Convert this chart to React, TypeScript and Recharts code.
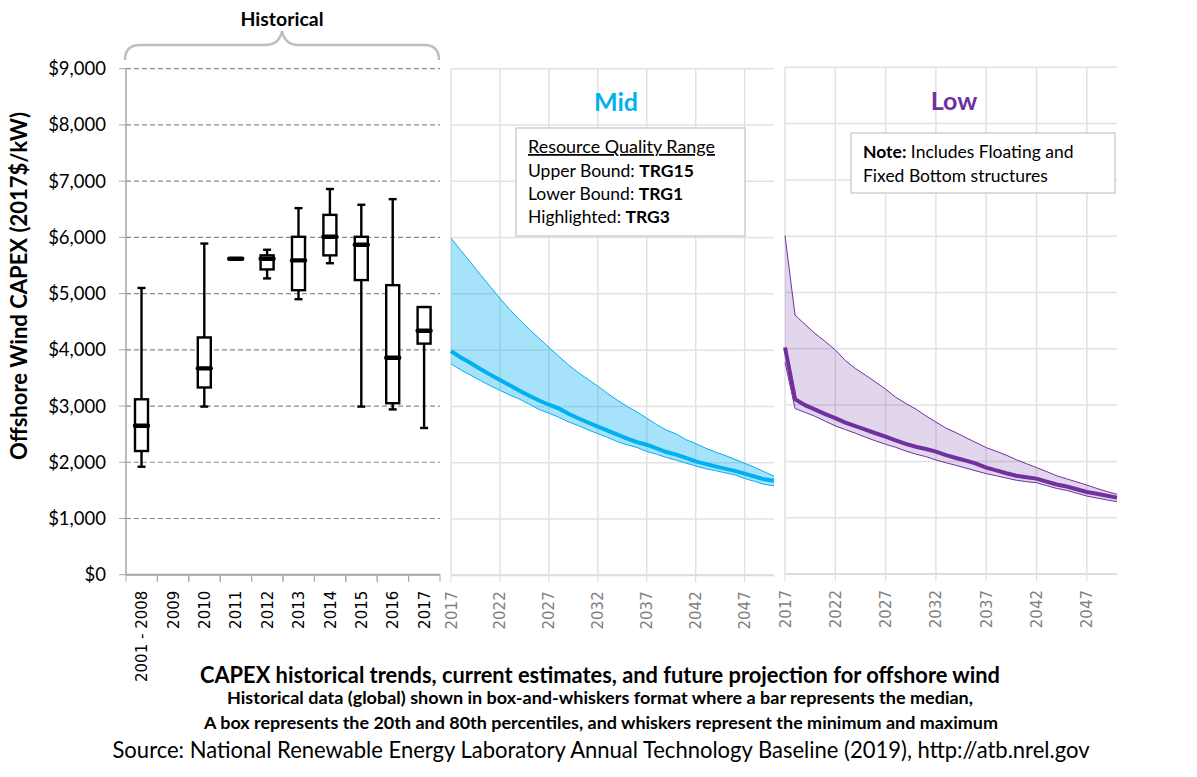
import React from "react";
import { Area, Bar, CartesianGrid, ComposedChart, Line, XAxis, YAxis } from "recharts";

const yTicks = [0, 1000, 2000, 3000, 4000, 5000, 6000, 7000, 8000, 9000];

// historical boxes
const boxCategories = ["2001 - 2008", "2009", "2010", "2011", "2012", "2013", "2014", "2015", "2016", "2017"];
const boxMin = [1920, null, 2990, 5620, 5270, 4900, 5540, 2990, 2940, 2610];
const boxQ1 = [2200, null, 3330, 5620, 5430, 5060, 5680, 5240, 3050, 4110];
const boxMedian = [2650, null, 3670, 5620, 5620, 5590, 6010, 5870, 3860, 4340];
const boxQ3 = [3120, null, 4220, 5620, 5680, 6010, 6400, 6010, 5150, 4760];
const boxMax = [5100, null, 5890, 5620, 5780, 6520, 6860, 6580, 6680, 4760];

// projections
const years = [
  2017, 2018, 2019, 2020, 2021, 2022, 2023, 2024, 2025, 2026, 2027, 2028, 2029, 2030, 2031, 2032, 2033,
  2034, 2035, 2036, 2037, 2038, 2039, 2040, 2041, 2042, 2043, 2044, 2045, 2046, 2047, 2048, 2049, 2050,
];
const yearTicks = [2017, 2022, 2027, 2032, 2037, 2042, 2047];
const midUpper = [
  5990, 5770, 5560, 5340, 5130, 4920, 4720, 4540, 4370, 4210, 4050, 3890, 3740, 3600, 3480, 3360, 3230,
  3110, 3000, 2900, 2790, 2680, 2580, 2510, 2410, 2340, 2260, 2190, 2130, 2060, 1990, 1920, 1840, 1760,
];
const midCentral = [
  3983, 3870, 3770, 3665, 3565, 3470, 3375, 3280, 3190, 3105, 3030, 2965, 2870, 2790, 2715, 2640, 2570,
  2500, 2430, 2365, 2320, 2255, 2190, 2145, 2085, 2025, 1980, 1935, 1895, 1855, 1805, 1755, 1705, 1680,
];
const midLower = [
  3757, 3650, 3555, 3460, 3370, 3285, 3205, 3130, 3040, 2945, 2880, 2810, 2725, 2660, 2585, 2515, 2450,
  2375, 2320, 2270, 2200, 2150, 2095, 2045, 1995, 1940, 1895, 1860, 1820, 1785, 1720, 1670, 1615, 1590,
];
const lowUpper = [
  6010, 4600, 4430, 4270, 4130, 3980, 3790, 3650, 3530, 3410, 3283, 3141, 3030, 2930, 2808, 2700, 2590,
  2510, 2420, 2334, 2245, 2180, 2110, 2030, 1960, 1890, 1820, 1745, 1690, 1635, 1580, 1520, 1465, 1415,
];
const lowCentral = [
  4024, 3105, 3000, 2920, 2840, 2767, 2690, 2625, 2565, 2500, 2441, 2375, 2310, 2260, 2220, 2174, 2110,
  2060, 2015, 1960, 1889, 1840, 1790, 1745, 1720, 1694, 1640, 1590, 1555, 1505, 1456, 1425, 1390, 1356,
];
const lowLower = [
  3757, 2940, 2870, 2800, 2715, 2630, 2565, 2500, 2430, 2365, 2304, 2250, 2185, 2130, 2085, 2025, 1975,
  1930, 1880, 1830, 1783, 1745, 1705, 1665, 1640, 1622, 1570, 1520, 1485, 1435, 1384, 1350, 1315, 1285,
];

const boxData = boxCategories.map((name, i) => ({
  name,
  span: boxMin[i] === null ? null : [boxMin[i], boxMax[i]],
  min: boxMin[i],
  q1: boxQ1[i],
  median: boxMedian[i],
  q3: boxQ3[i],
  max: boxMax[i],
}));
const midData = years.map((year, i) => ({ year, band: [midLower[i], midUpper[i]], central: midCentral[i] }));
const lowData = years.map((year, i) => ({ year, band: [lowLower[i], lowUpper[i]], central: lowCentral[i] }));

const CALIBRI = "Lato, 'Open Sans', sans-serif";
const BAND = 31.4;

function BoxShape(props: any) {
  const { x, y, width, height, payload } = props;
  if (payload.min === null) return null;
  const cx = x + width / 2;
  const range = payload.max - payload.min;
  const px = (v: number) => (range === 0 ? y : y + (height * (payload.max - v)) / range);
  return (
    <g stroke="#000" fill="none" strokeWidth={2.4}>
      {range > 0 && (
        <>
          <line x1={cx} x2={cx} y1={px(payload.max)} y2={px(payload.q3)} />
          <line x1={cx} x2={cx} y1={px(payload.q1)} y2={px(payload.min)} />
          <line x1={cx - 4} x2={cx + 4} y1={px(payload.max)} y2={px(payload.max)} />
          <line x1={cx - 4} x2={cx + 4} y1={px(payload.min)} y2={px(payload.min)} />
          <rect x={x} y={px(payload.q3)} width={width} height={px(payload.q1) - px(payload.q3)} fill="#fff" />
        </>
      )}
      <line
        x1={cx - 6.5}
        x2={cx + 6.5}
        y1={px(payload.median)}
        y2={px(payload.median)}
        strokeWidth={4.4}
        strokeLinecap="round"
      />
    </g>
  );
}

function RotatedTick(props: any) {
  const { x, y, payload, fill, marks } = props;
  return (
    <g>
      {marks && (
        <>
          <line x1={x - BAND / 2} x2={x - BAND / 2} y1={y - 7} y2={y} stroke="#a6a6a6" />
          <line x1={x + BAND / 2} x2={x + BAND / 2} y1={y - 7} y2={y} stroke="#a6a6a6" />
        </>
      )}
      <text
        transform={`translate(${x + 5.5},${y + 9}) rotate(-90)`}
        textAnchor="end"
        fontFamily="'DejaVu Sans', sans-serif"
        fontSize={15}
        fill={fill}
      >
        {payload.value}
      </text>
    </g>
  );
}

function Projection({ data, left, width, top, bottom, color, fillOpacity }: any) {
  const height = 777;
  return (
    <div style={{ position: "absolute", left: left - 10, top: 0 }}>
      <ComposedChart
        width={width + 20}
        height={height}
        data={data}
        margin={{ top, left: 10, right: 10, bottom: 0 }}
      >
        <CartesianGrid stroke="#e2e2e2" strokeWidth={1.5} syncWithTicks verticalValues={yearTicks} />
        <XAxis
          dataKey="year"
          type="number"
          domain={[2017, 2050]}
          ticks={yearTicks}
          interval={0}
          height={height - bottom}
          axisLine={{ stroke: "#dcdcdc", strokeWidth: 2 }}
          tickLine={{ stroke: "#dcdcdc" }}
          tickSize={7}
          tickMargin={0}
          tick={<RotatedTick fill="#7f7f7f" />}
        />
        <YAxis hide domain={[0, 9000]} ticks={yTicks} />
        <Area
          dataKey="band"
          type="linear"
          stroke={color}
          strokeWidth={1}
          fill={color}
          fillOpacity={fillOpacity}
          isAnimationActive={false}
        />
        <Line dataKey="central" type="linear" stroke={color} strokeWidth={4} dot={false} isAnimationActive={false} />
      </ComposedChart>
    </div>
  );
}

function Overlay() {
  const line = { fontFamily: CALIBRI, textAnchor: "middle" as const, lengthAdjust: "spacingAndGlyphs" };
  const boxText = { fontFamily: CALIBRI, fontSize: 17.5, fill: "#000" };
  return (
    <svg width={1197} height={777} style={{ position: "absolute", left: 0, top: 0, pointerEvents: "none" }}>
      <text x={282} y={26} {...line} fontSize={18} fontWeight={700} textLength={83}>
        Historical
      </text>
      <path
        d="M125,60 C125,51 129,45 140,45 L265,45 C273,45 280,41 282,31 C284,41 291,45 299,45 L424,45 C435,45 439,51 439,60"
        fill="none"
        stroke="#bfbfbf"
        strokeWidth={2.5}
      />
      <text
        transform="translate(27,286) rotate(-90)"
        {...line}
        fontSize={22}
        fontWeight={700}
        textLength={348}
      >
        Offshore Wind CAPEX (2017$/kW)
      </text>

      <text x={616} y={111} {...line} fontSize={25} fontWeight={700} fill="#00b0f0">
        Mid
      </text>
      <text x={954} y={110} {...line} fontSize={25} fontWeight={700} fill="#7030a0">
        Low
      </text>

      <rect x={516} y={128} width={229} height={108} fill="#fff" stroke="#c4c4c4" strokeWidth={1.2} />
      <text x={528} y={153} {...boxText} textDecoration="underline" textLength={187} lengthAdjust="spacingAndGlyphs">
        Resource Quality Range
      </text>
      <text x={528} y={177} {...boxText}>
        Upper Bound: <tspan fontWeight={700}>TRG15</tspan>
      </text>
      <text x={528} y={200} {...boxText}>
        Lower Bound: <tspan fontWeight={700}>TRG1</tspan>
      </text>
      <text x={528} y={223} {...boxText}>
        Highlighted: <tspan fontWeight={700}>TRG3</tspan>
      </text>

      <rect x={851} y={133} width={264} height={60} fill="#fff" stroke="#c4c4c4" strokeWidth={1.2} />
      <text x={863} y={158} {...boxText}>
        <tspan fontWeight={700}>Note:</tspan> Includes Floating and
      </text>
      <text x={863} y={182} {...boxText}>
        Fixed Bottom structures
      </text>

      <text x={600} y={683} {...line} fontSize={22} fontWeight={700} textLength={800}>
        CAPEX historical trends, current estimates, and future projection for offshore wind
      </text>
      <text x={600} y={704} {...line} fontSize={17.5} fontWeight={700} textLength={746}>
        Historical data (global) shown in box-and-whiskers format where a bar represents the median,
      </text>
      <text x={601} y={729} {...line} fontSize={17.5} fontWeight={700} textLength={794}>
        A box represents the 20th and 80th percentiles, and whiskers represent the minimum and maximum
      </text>
      <text x={601} y={758} {...line} fontSize={23} textLength={977}>
        Source: National Renewable Energy Laboratory Annual Technology Baseline (2019), http://atb.nrel.gov
      </text>
    </svg>
  );
}

export default function App() {
  const height = 777;
  return (
    <div style={{ position: "absolute", left: 0, top: 0, width: 1197, height, background: "#fff" }}>
      <div style={{ position: "absolute", left: 0, top: 0 }}>
        <ComposedChart
          width={445}
          height={height}
          data={boxData}
          margin={{ top: 68.7, left: 0, right: 5, bottom: 0 }}
        >
          <CartesianGrid vertical={false} stroke="#8c8c8c" strokeWidth={1.2} strokeDasharray="5 3" />
          <XAxis
            dataKey="name"
            height={height - 574.7}
            stroke="#a6a6a6"
            axisLine={{ stroke: "#a6a6a6", strokeWidth: 2 }}
            tickLine={false}
            tickSize={7}
            tickMargin={0}
            interval={0}
            tick={<RotatedTick fill="#000" marks />}
          />
          <YAxis
            width={126}
            domain={[0, 9000]}
            ticks={yTicks}
            stroke="#a6a6a6"
            tickFormatter={(v: number) => `$${v.toLocaleString("en-US")}`}
            axisLine={{ stroke: "#a6a6a6", strokeWidth: 1.5 }}
            tickLine={{ stroke: "#a6a6a6" }}
            tickSize={7}
            tickMargin={13}
            tick={{ fill: "#000", fontSize: 18.5, fontFamily: CALIBRI }}
          />
          <Bar dataKey="span" barSize={13} shape={<BoxShape />} isAnimationActive={false} />
        </ComposedChart>
      </div>
      <Projection data={midData} left={451} width={323} top={68.7} bottom={575.3} color="#00b0f0" fillOpacity={0.35} />
      <Projection data={lowData} left={785} width={332} top={67.3} bottom={574} color="#7030a0" fillOpacity={0.2} />
      <Overlay />
    </div>
  );
}
